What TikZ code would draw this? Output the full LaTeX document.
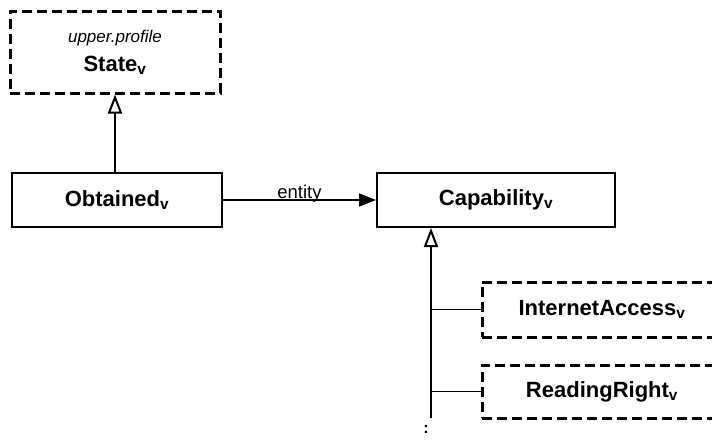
\documentclass[tikz,border=0pt]{standalone}
\usepackage{fontspec}
\setmainfont{Liberation Sans}
\usetikzlibrary{arrows.meta}

\begin{document}
\begin{tikzpicture}[
  x=1pt, y=-1pt,
  line cap=butt,
  gen/.style={-{Triangle[open,length=19pt,width=14pt,fill=white]}, line width=2pt},
  assoc/.style={-{Triangle[length=17pt,width=13pt]}, line width=2pt},
  cls/.style={draw, line width=2pt, minimum height=54pt, inner sep=0pt,
    font=\fontsize{22}{24}\selectfont\bfseries},
  dashcls/.style={cls, line width=3pt, dash pattern=on 10pt off 5pt}
]
  \useasboundingbox (0,0) rectangle (712,439);
  \clip (0,0) rectangle (712,439);

  % classes
  \node[dashcls, minimum width=210pt, minimum height=82pt, align=center] (State) at (115,52)
    {{\fontsize{17}{18}\selectfont\mdseries\itshape upper.profile}\\[5pt] State\textsubscript{v}};
  \node[cls, minimum width=210pt] (Obtained) at (117,200) {Obtained\textsubscript{v}};
  \node[cls, minimum width=238pt] (Capability) at (496,200) {Capability\textsubscript{v}};
  \node[dashcls, minimum width=240pt, minimum height=55pt] (InternetAccess) at (602,309.5) {InternetAccess\textsubscript{v}};
  \node[dashcls, minimum width=240pt, minimum height=53pt] (ReadingRight) at (602,391.5) {ReadingRight\textsubscript{v}};
  \node[font=\fontsize{16}{18}\selectfont\bfseries] (more) at (426,429) {:};

  % generalization of Obtained
  \draw[gen] (Obtained.north -| State.south) -- (State.south);

  % association
  \draw[assoc] (Obtained.east) -- node[midway, anchor=base, yshift=2pt, inner sep=0pt,
    font=\fontsize{18.5}{20}\selectfont] {entity} (Capability.west);

  % subclasses of Capability
  \coordinate (trunk) at (431,418);
  \draw[gen] (trunk) -- (trunk |- Capability.south);
  \foreach \sub in {InternetAccess,ReadingRight}{
    \draw[line width=1.5pt] (\sub.west -| trunk) -- (\sub.west);
  }
\end{tikzpicture}
\end{document}
